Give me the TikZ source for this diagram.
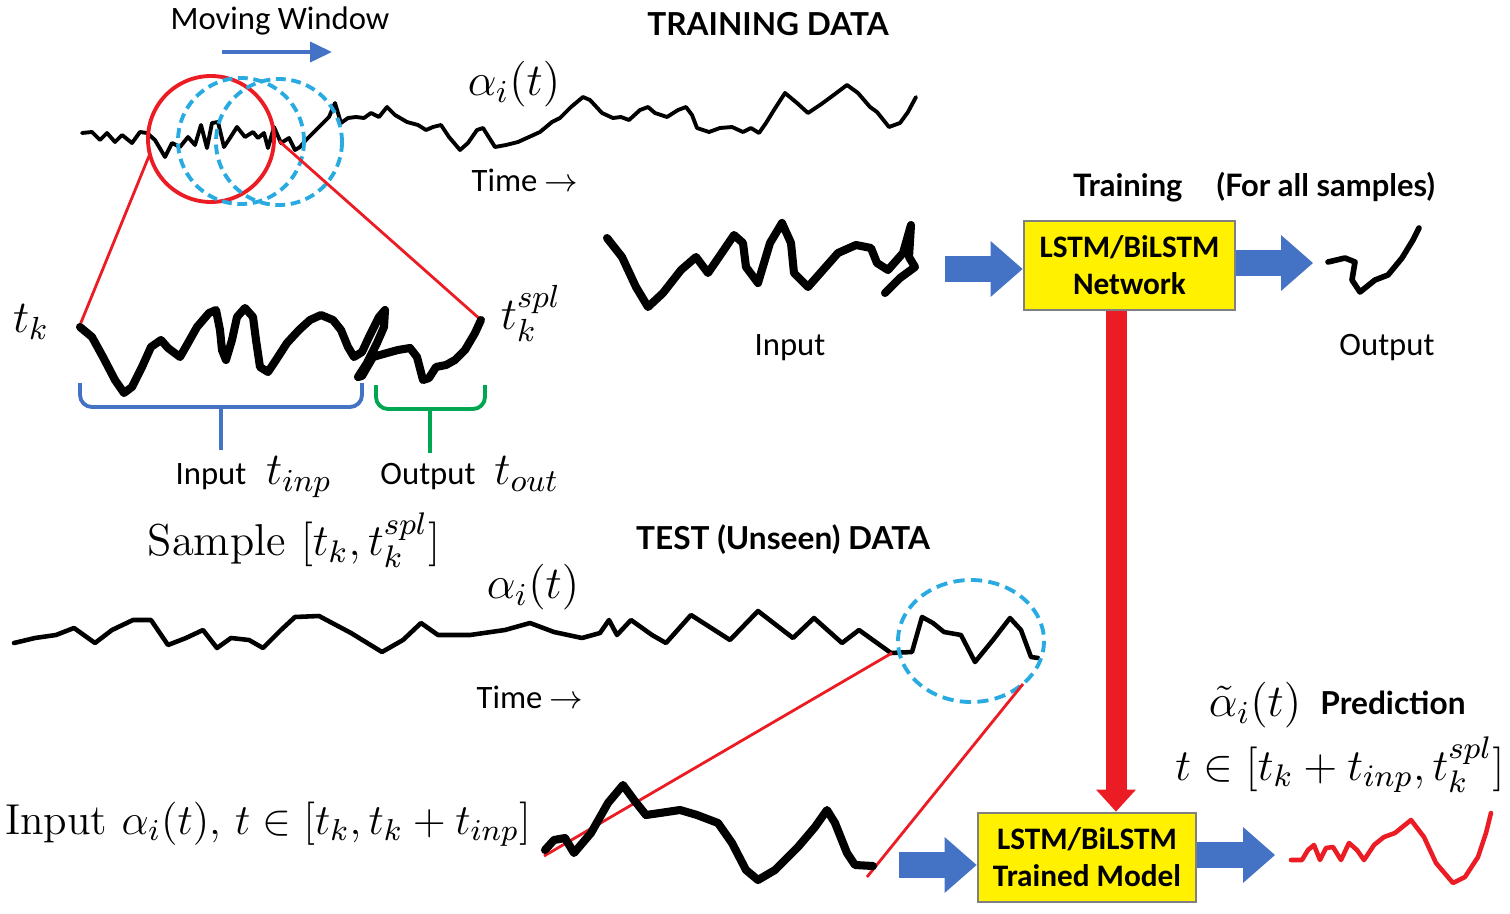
\RequirePackage{fix-cm}
\documentclass[tikz,border=0pt]{standalone}
\usepackage{fontspec}
\newfontfamily\boxfont{Carlito}
\newfontfamily\headfont{Lato}
\usetikzlibrary{arrows.meta,positioning,calc}
\definecolor{winred}{RGB}{236,28,36}
\definecolor{skyblue}{RGB}{41,171,226}
\definecolor{arrblue}{RGB}{68,114,196}
\definecolor{bracegreen}{RGB}{0,166,81}
\definecolor{boxyellow}{RGB}{255,241,0}

\begin{document}
\begin{tikzpicture}[x=0.1mm,y=-0.1mm,
    lbl/.style={font=\boxfont\fontsize{9.3}{11}\selectfont},
    hd/.style={font=\headfont\bfseries\fontsize{9}{11}\selectfont},
    mth/.style={font=\fontsize{13}{15}\selectfont},
    sigthin/.style={line width=1.1pt,line join=round,line cap=round},
    sigmid/.style={line width=1.3pt,line join=round,line cap=round},
    sigthick/.style={line width=2.3pt,line join=round,line cap=round},
    zoomline/.style={winred,line width=0.8pt},
    windash/.style={skyblue,line width=1.1pt,dash pattern=on 2.8pt off 1.6pt},
    bluebrace/.style={arrblue,line width=1.1pt,rounded corners=1.2mm},
    greenbrace/.style={bracegreen,line width=1.1pt,rounded corners=1.2mm},
    blockarr/.style={arrblue,line width=2.6mm,-{Triangle[length=3.2mm,width=5.6mm,line width=0pt]}},
    redarr/.style={winred,line width=2.1mm,-{Triangle[length=2.2mm,width=4mm,line width=0pt]}},
    nnbox/.style={draw=gray,fill=boxyellow,line width=0.8pt,align=center,
      font=\boxfont\bfseries\fontsize{8.9}{10.5}\selectfont}
  ]
  \useasboundingbox (0,0) rectangle (1510,914);

  % training data
  \node[lbl] (mwin) at (280,21) {Moving Window};
  \coordinate (mw0) at (222,52);
  \coordinate (mw1) at (332,52);
  \draw[arrblue,line width=1.1pt,-{Triangle[length=2.2mm,width=2mm]}] (mw0) -- (mw1);
  \node[hd] (trainhd) at (768,24) {TRAINING DATA};
  \node[mth] (alphatr) at (514,84) {$\alpha_i(t)$};
  \node[lbl] (timetr) at (525,180) {Time $\rightarrow$};

  \draw[sigthin] plot coordinates {(82,133) (92,132) (100,140) (107,133) (115,142) (122,135)
    (132,143) (140,132) (147,133) (155,140) (165,157) (172,143) (180,147) (188,137) (195,145)
    (201,125) (207,148) (212,123) (218,122) (224,147) (230,138) (237,127) (245,137) (253,132)
    (258,138) (264,133) (268,148) (274,127) (281,143) (289,138) (295,150) (300,147) (306,140)
    (314,132) (321,125) (329,117) (335,103) (341,123) (348,118) (356,117) (364,118) (371,113)
    (379,117) (387,107) (395,115) (407,122) (418,125) (426,130) (433,127) (441,125) (449,137)
    (460,150) (468,143) (477,130) (483,128) (495,147) (506,145) (518,142) (529,137) (540,132)
    (552,122) (560,118) (571,107) (583,97) (590,100) (602,113) (613,118) (621,117) (629,120)
    (640,110) (648,107) (655,113) (667,117) (678,110) (686,107) (692,115) (697,128) (709,132)
    (720,128) (732,127) (743,132) (751,128) (759,133) (766,123) (774,110) (785,93) (797,103)
    (808,113) (820,105) (831,97) (847,85) (858,93) (870,107) (877,112) (889,127) (900,123)
    (908,112) (916,97)};

  \draw[winred,line width=1.1pt] (211,139) circle[radius=63];
  \draw[windash] (241,141) circle[radius=63];
  \draw[windash] (279,142) circle[radius=63];

  % zoomed sample
  \coordinate (c1) at (149,156);
  \coordinate (c2) at (279,141);
  \coordinate (s0) at (80,325);
  \coordinate (s1) at (481,320);
  \draw[zoomline] (c1) -- (s0);
  \draw[zoomline] (c2) -- (s1);
  \draw[sigthick] plot coordinates {(80,327) (92,337) (103,357) (115,380) (124,393) (132,387)
    (142,367) (151,347) (161,340) (168,348) (180,357) (188,343) (197,327) (209,313) (216,310)
    (220,330) (222,350) (226,360) (232,340) (237,317) (245,308) (253,317) (256,340) (260,367)
    (268,372) (276,360) (287,343) (299,330) (310,320) (321,315) (333,320) (341,330) (348,347)
    (354,357) (362,352) (369,337) (379,317) (385,310) (384,327) (377,343) (367,363) (358,377)
    (362,376) (373,357) (387,353) (398,350) (410,348) (417,357) (423,380) (429,378) (436,367)
    (446,365) (455,360) (465,350) (475,333) (481,320)};
  \node[mth] (tk) at (31,322) {$t_k$};
  \node[mth] (tspl) at (531,313) {$t_k^{spl}$};

  \draw[bluebrace] (80,383) |- (221,407) -| (362,383);
  \draw[arrblue,line width=1.1pt] (221,407) -- (221,450);
  \draw[greenbrace] (376,385) |- (430,409) -| (485,385);
  \draw[bracegreen,line width=1.1pt] (430,409) -- (430,453);

  \node[lbl] (inplbl) at (211,477) {Input};
  \node[mth,anchor=base west] (tinp) at ([xshift=-0.5mm]inplbl.base east) {$t_{inp}$};
  \node[lbl] (outlbl) at (428,477) {Output};
  \node[mth,anchor=base west] (tout) at ([xshift=-0.6mm]outlbl.base east) {$t_{out}$};
  \node[mth,font=\fontsize{12.7}{15}\selectfont] (sample) at (294,540) {Sample $[t_k,t_k^{spl}]$};

  % training of the network
  \node[hd,font=\headfont\bfseries\fontsize{8.8}{11}\selectfont] (trhd) at (1254,187)
    {Training\hspace{1.1em}(For all samples)};
  \draw[sigthick] plot coordinates {(607,238) (622,257) (636,287) (648,307) (663,293) (681,270)
    (696,257) (708,273) (719,257) (734,235) (743,243) (746,267) (758,283) (770,243) (782,223)
    (791,243) (794,273) (808,287) (823,270) (838,253) (856,245) (871,248) (877,263) (888,270)
    (903,253) (911,225) (909,257) (915,267) (900,278) (885,293)};
  \node[lbl] (inpcv) at (790,348) {Input};
  \node[nnbox,minimum width=21.1mm,minimum height=8.9mm] (net) at (1129.5,265.5)
    {LSTM/BiLSTM\\Network};
  \coordinate (a1) at (945,269);
  \coordinate (a2) at (1313,263);
  \draw[blockarr] (a1) -- (a1 -| net.west);
  \draw[blockarr] (net.east |- a2) -- (a2);
  \draw[line width=1.6pt,line join=round,line cap=round] plot coordinates {(1328,262) (1345,258)
    (1355,262) (1352,280) (1360,292) (1375,280) (1388,275) (1402,258) (1413,240) (1419,228)};
  \node[lbl] (outcv) at (1387,348) {Output};

  % test data
  \node[hd] (testhd) at (783,540) {TEST (Unseen) DATA};
  \node[mth] (alphate) at (533,587) {$\alpha_i(t)$};
  \node[lbl] (timete) at (530,697) {Time $\rightarrow$};
  \draw[sigmid] plot coordinates {(14,643) (35,638) (56,635) (74,628) (95,643) (112,630)
    (133,620) (151,620) (168,645) (186,638) (203,630) (217,648) (231,638) (249,640) (263,648)
    (281,630) (295,617) (319,616) (351,633) (382,652) (403,640) (421,623) (438,635) (470,635)
    (505,630) (530,623) (554,632) (582,638) (600,633) (609,620) (617,635) (631,620) (652,635)
    (666,643) (691,615) (730,640) (758,611) (793,638) (814,618) (842,643) (859,630) (891,653)
    (912,652) (922,617) (933,623) (944,632) (961,635) (975,662) (993,640) (1010,618) (1021,630)
    (1031,657) (1038,658)};
  \draw[windash,dash pattern=on 3.2pt off 1.8pt] (971,641) ellipse[x radius=73,y radius=61];

  \coordinate (d1) at (892,653);
  \coordinate (d2) at (1023,684);
  \coordinate (e0) at (544,856);
  \coordinate (e1) at (867,877);
  \draw[zoomline] (d1) -- (e0);
  \draw[zoomline] (d2) -- (e1);
  \draw[sigthick] plot coordinates {(545,850) (554,840) (565,838) (574,853) (591,833) (608,803)
    (623,785) (634,800) (646,815) (660,813) (680,810) (697,815) (718,823) (732,843) (746,870)
    (758,880) (775,870) (798,847) (815,827) (827,810) (835,823) (847,853) (855,865) (873,866)};
  \node[mth,font=\fontsize{12.3}{15}\selectfont] (inputte) at (268,824)
    {Input $\alpha_i(t)$, $t\in[t_k,t_k+t_{inp}]$};

  % trained model
  \node[nnbox,minimum width=21.8mm,minimum height=8.9mm] (model) at (1087,857.5)
    {LSTM/BiLSTM\\Trained Model};
  \coordinate (r1) at (1116,0);
  \draw[redarr] (net.south -| r1) -- (model.north -| r1);
  \coordinate (a3) at (899,865);
  \coordinate (a4) at (1275,855);
  \draw[blockarr] (a3) -- (a3 -| model.west);
  \draw[blockarr] (model.east |- a4) -- (a4);

  \node[mth] (alphapr) at (1255,705) {$\tilde{\alpha}_i(t)$};
  \node[hd] (predhd) at (1393,703) {Prediction};
  \node[mth,font=\fontsize{12.7}{15}\selectfont] (prange) at (1340,765) {$t\in[t_k+t_{inp},t_k^{spl}]$};
  \draw[winred,line width=1.3pt,line join=round,line cap=round] plot coordinates {(1291,860)
    (1302,860) (1308,850) (1314,845) (1320,860) (1326,848) (1333,847) (1341,860) (1349,843)
    (1357,850) (1364,860) (1374,845) (1384,837) (1395,833) (1411,820) (1424,837) (1436,863)
    (1453,883) (1465,877) (1478,857) (1486,833) (1491,813)};
\end{tikzpicture}
\end{document}
